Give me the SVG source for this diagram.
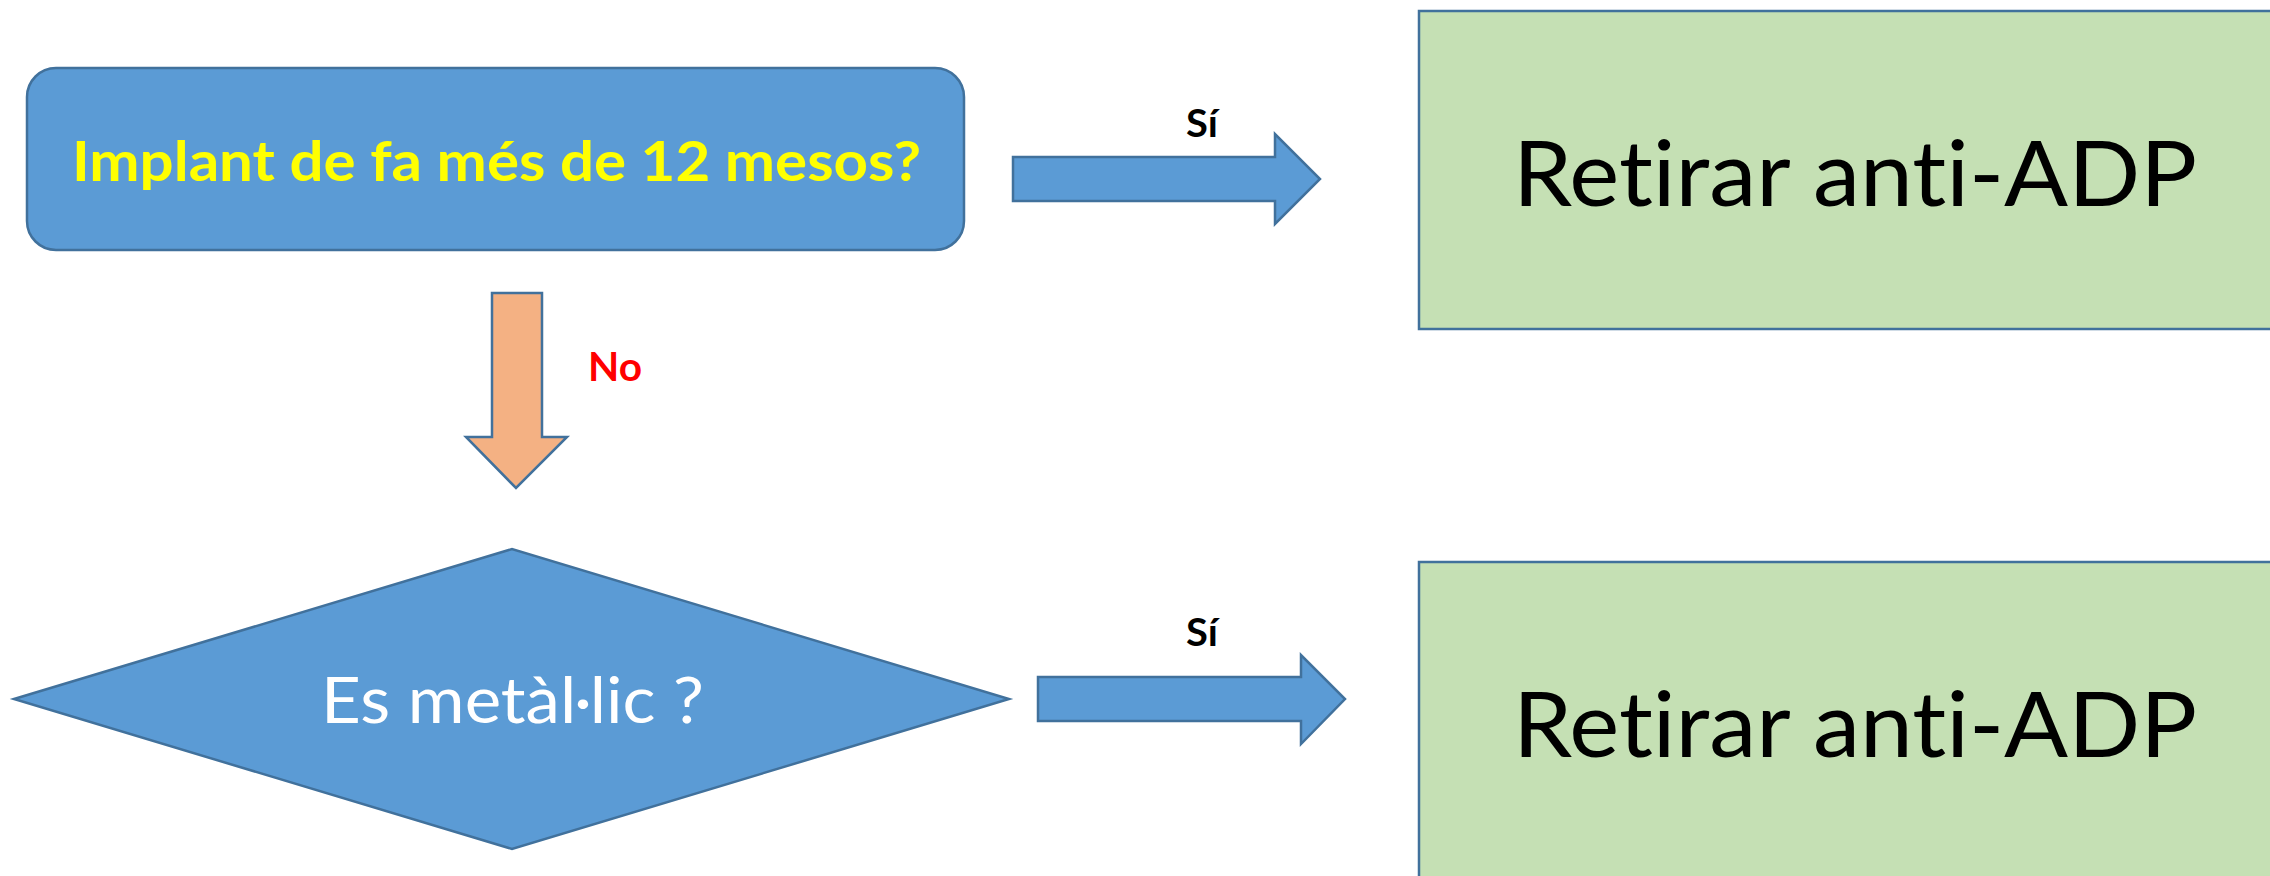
<svg xmlns="http://www.w3.org/2000/svg" width="2270" height="876" viewBox="0 0 2270 876">
<style>
.blue{fill:#5B9BD5;stroke:#41719C;stroke-width:2.5}
.orange{fill:#F4B183;stroke:#41719C;stroke-width:2.5}
.green{fill:#C5E0B4;stroke:#41719C;stroke-width:2.5}
text{font-family:Lato,"Open Sans","Liberation Sans",sans-serif;font-variant-ligatures:none;font-feature-settings:"liga" 0,"clig" 0}
.lbl{font-weight:bold;font-size:38px;fill:#000}
.big{font-size:92px;fill:#000}
</style>
<rect width="2270" height="876" fill="#FFFFFF"/>
<g id="n-implant">
<rect class="blue" x="27" y="68" width="937" height="182" rx="29" ry="29"/>
<text x="72" y="181" font-size="56" font-weight="bold" fill="#FFFF00" textLength="849" lengthAdjust="spacingAndGlyphs">Implant de fa més de 12 mesos?</text>
</g>
<g id="n-metallic">
<polygon class="blue" points="14,699 512,549 1009,699 512,849"/>
<text x="321" y="723" font-size="63" fill="#FFFFFF" textLength="383" lengthAdjust="spacingAndGlyphs">Es metàl·lic ?</text>
</g>
<g id="n-retirar1">
<rect class="green" x="1419" y="11" width="870" height="318"/>
<text class="big" x="1513" y="206" textLength="684" lengthAdjust="spacingAndGlyphs">Retirar anti-ADP</text>
</g>
<g id="n-retirar2">
<rect class="green" x="1419" y="562" width="870" height="330"/>
<text class="big" x="1513" y="757" textLength="684" lengthAdjust="spacingAndGlyphs">Retirar anti-ADP</text>
</g>
<g id="connectors">
<g id="c-si1">
<polygon class="blue" points="1013,157 1275,157 1275,134 1320,179 1275,224 1275,201 1013,201"/>
<text class="lbl" x="1186" y="137" textLength="32" lengthAdjust="spacingAndGlyphs">Sí</text>
</g>
<g id="c-no">
<polygon class="orange" points="492,293 542,293 542,437 567,437 516,488 466,437 492,437"/>
<text x="588" y="381" font-size="40" font-weight="bold" fill="#FF0000" textLength="54" lengthAdjust="spacingAndGlyphs">No</text>
</g>
<g id="c-si2">
<polygon class="blue" points="1038,677 1301,677 1301,655 1345,699 1301,744 1301,721 1038,721"/>
<text class="lbl" x="1186" y="646" textLength="32" lengthAdjust="spacingAndGlyphs">Sí</text>
</g>
</g>
</svg>
